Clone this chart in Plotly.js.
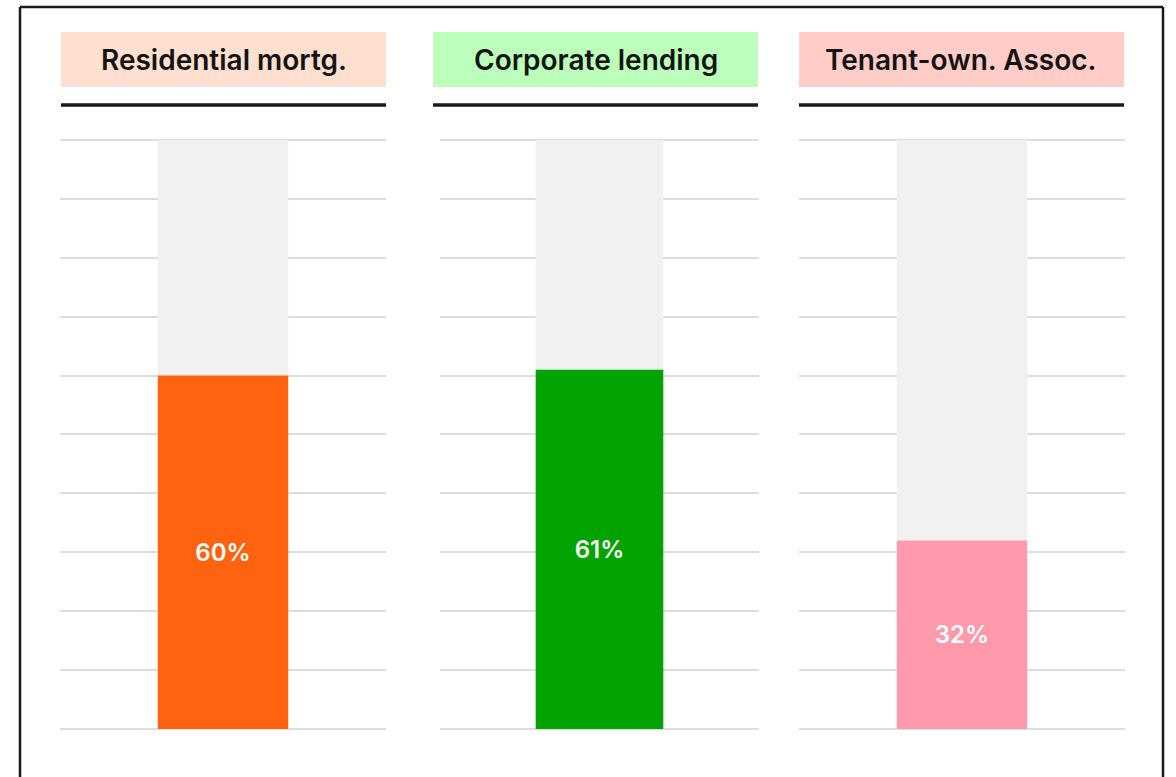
<!DOCTYPE html>
<html>
<head>
<meta charset="utf-8">
<script src="https://cdn.plot.ly/plotly-3.0.1.min.js"></script>
<style>
html,body{margin:0;padding:0;background:#fff;}
#chart{width:1176px;height:777px;}
</style>
</head>
<body>
<div id="chart"></div>
<script>
const categories = ["Residential mortg.", "Corporate lending", "Tenant-own. Assoc."];
const values = [60, 61, 32];
const maxValues = [100, 100, 100];
const valueLabels = ["60%", "61%", "32%"];
const barColors = ["#FF6310", "#00A300", "#FF9AAD"];
const headerColors = ["#FFDFD0", "#BBFFBB", "#FFCCC8"];

const W = 1176, H = 777;
const px = x => x / W;
const py = y => 1 - y / H;

const panels = [
  {grid: [60, 386], head: [61, 386]},
  {grid: [440, 759], head: [433, 758]},
  {grid: [799, 1125], head: [799, 1124]}
];
const plotTop = 140, plotBottom = 729;
const pad = 0.5; // value units of padding so 0 and 100 gridlines are drawn
const pxPerUnit = (plotBottom - plotTop) / 100;
const fontFam = "Inter, 'Noto Sans', sans-serif";

const traces = [];
const layout = {
  width: W, height: H,
  margin: {l: 0, r: 0, t: 0, b: 0},
  paper_bgcolor: "#fff", plot_bgcolor: "rgba(0,0,0,0)",
  showlegend: false,
  barmode: "overlay",
  shapes: [], annotations: []
};

categories.forEach((cat, i) => {
  const n = i === 0 ? "" : String(i + 1);
  const xa = "x" + n, ya = "y" + n;
  traces.push({
    type: "bar", x: [cat], y: [maxValues[i]], xaxis: xa, yaxis: ya,
    marker: {color: "#F1F1F1", line: {width: 0}}, width: 0.4, hoverinfo: "skip"
  });
  traces.push({
    type: "bar", x: [cat], y: [values[i]], xaxis: xa, yaxis: ya,
    marker: {color: barColors[i], line: {width: 0}}, width: 0.4,
    text: [valueLabels[i]], textposition: "inside", insidetextanchor: "middle",
    textangle: 0,
    textfont: {color: "#fff", size: 24, family: fontFam, weight: 600}
  });
  layout["xaxis" + n] = {
    domain: [px(panels[i].grid[0]), px(panels[i].grid[1])],
    anchor: ya, showticklabels: false, showgrid: false, zeroline: false,
    showline: false, ticks: "", range: [-0.5, 0.5], fixedrange: true
  };
  layout["yaxis" + n] = {
    domain: [py(plotBottom + pad * pxPerUnit), py(plotTop - pad * pxPerUnit)],
    anchor: xa, range: [-pad, 100 + pad], dtick: 10, tick0: 0,
    showgrid: true, gridcolor: "#DDDDDD", gridwidth: 2,
    zeroline: false, showticklabels: false, ticks: "", showline: false, fixedrange: true
  };
  layout.shapes.push({
    type: "rect", xref: "paper", yref: "paper",
    x0: px(panels[i].head[0]), x1: px(panels[i].head[1]),
    y0: py(87), y1: py(32), fillcolor: headerColors[i], line: {width: 0}, layer: "below"
  });
  layout.shapes.push({
    type: "line", xref: "paper", yref: "paper",
    x0: px(panels[i].head[0]), x1: px(panels[i].head[1]),
    y0: py(105), y1: py(105), line: {color: "#1a1a1a", width: 3.5}
  });
  layout.annotations.push({
    xref: "paper", yref: "paper",
    x: px((panels[i].head[0] + panels[i].head[1]) / 2), y: py(60),
    xanchor: "center", yanchor: "middle", showarrow: false,
    text: cat, font: {family: fontFam, size: 28, color: "#141414", weight: 600}
  });
});

layout.shapes.push({type: "line", xref: "paper", yref: "paper", x0: px(20), x1: px(1163), y0: py(7), y1: py(7), line: {color: "#1a1a1a", width: 2.5}});
layout.shapes.push({type: "line", xref: "paper", yref: "paper", x0: px(20), x1: px(20), y0: py(7), y1: py(790), line: {color: "#1a1a1a", width: 2.5}});
layout.shapes.push({type: "line", xref: "paper", yref: "paper", x0: px(1163), x1: px(1163), y0: py(7), y1: py(790), line: {color: "#1a1a1a", width: 2.5}});

Plotly.newPlot("chart", traces, layout, {displayModeBar: false, staticPlot: true});
</script>
</body>
</html>
